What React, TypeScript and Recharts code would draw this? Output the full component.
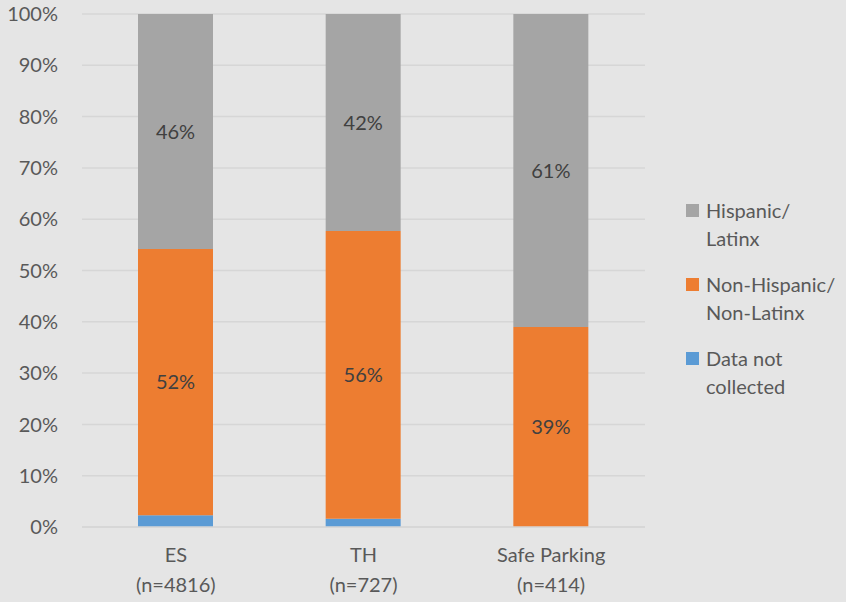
import { BarChart, Bar, XAxis, YAxis, CartesianGrid, Legend, LabelList } from 'recharts';

const categories = ['ES\n(n=4816)', 'TH\n(n=727)', 'Safe Parking\n(n=414)'];
const notCollected = [2.3, 1.6, 0];
const nonHispanic = [51.9, 56.1, 39];
const hispanic = [45.8, 42.3, 61];
const yTicks = [0, 10, 20, 30, 40, 50, 60, 70, 80, 90, 100];

const FONT = 'Lato, "Open Sans", sans-serif';
const TEXT = '#595959';

const seriesInfo = [
  { key: 'hispanic', name: 'Hispanic/\nLatinx', color: '#a5a5a5' },
  { key: 'nonHispanic', name: 'Non-Hispanic/\nNon-Latinx', color: '#ed7d31' },
  { key: 'notCollected', name: 'Data not\ncollected', color: '#5b9bd5' },
];

const chartData = categories.map((c, i) => ({
  category: c,
  notCollected: notCollected[i],
  nonHispanic: nonHispanic[i],
  hispanic: hispanic[i],
}));

const CategoryTick = ({ x, y, payload }: any) => {
  const lines = String(payload.value).split('\n');
  return (
    <text x={x} y={y} textAnchor="middle" fill={TEXT} fontSize={20} fontFamily={FONT}>
      {lines.map((l, i) => (
        <tspan key={i} x={x} dy={i === 0 ? 27 : 30}>{l}</tspan>
      ))}
    </text>
  );
};

const LegendBox = () => (
  <div style={{ fontFamily: FONT, fontSize: 20, color: TEXT }}>
    {seriesInfo.map((s) => (
      <div key={s.key} style={{ display: 'flex', alignItems: 'flex-start', marginBottom: 18 }}>
        <div style={{ width: 13, height: 13, background: s.color, marginTop: 8, marginRight: 7 }} />
        <div style={{ lineHeight: '28px' }}>
          {s.name.split('\n').map((l, i) => <div key={i}>{l}</div>)}
        </div>
      </div>
    ))}
  </div>
);

const pctLabel = (v: any) => (v > 0 ? `${Math.round(v)}%` : '');

export default function App() {
  return (
    <div style={{ position: 'absolute', left: 0, top: 0, width: 846, height: 602, background: '#e5e5e5' }}>
      <BarChart
        width={846}
        height={602}
        data={chartData}
        margin={{ top: 14, right: 41, left: 22, bottom: 0 }}
        barSize={75}
      >
        <CartesianGrid vertical={false} stroke="#d6d6d6" strokeWidth={1.5} />
        <XAxis
          dataKey="category"
          axisLine={{ stroke: '#d6d6d6', strokeWidth: 1.5 }}
          tickLine={false}
          tick={<CategoryTick />}
          height={75}
          interval={0}
        />
        <YAxis
          domain={[0, 100]}
          ticks={yTicks}
          axisLine={false}
          tickLine={false}
          width={60}
          tickFormatter={(v) => `${v}%`}
          tick={{ fontSize: 20, fill: TEXT, fontFamily: FONT, dx: -16 }}
        />
        <Legend
          layout="vertical"
          verticalAlign="top"
          align="right"
          wrapperStyle={{ left: 686, top: 196, width: 160 }}
          content={<LegendBox />}
        />
        <Bar dataKey="notCollected" stackId="a" fill="#5b9bd5" isAnimationActive={false} />
        <Bar dataKey="nonHispanic" stackId="a" fill="#ed7d31" isAnimationActive={false}>
          <LabelList dataKey="nonHispanic" position="center" formatter={pctLabel} fill="#404040" fontSize={20} fontFamily={FONT} />
        </Bar>
        <Bar dataKey="hispanic" stackId="a" fill="#a5a5a5" isAnimationActive={false}>
          <LabelList dataKey="hispanic" position="center" formatter={pctLabel} fill="#404040" fontSize={20} fontFamily={FONT} />
        </Bar>
      </BarChart>
    </div>
  );
}
